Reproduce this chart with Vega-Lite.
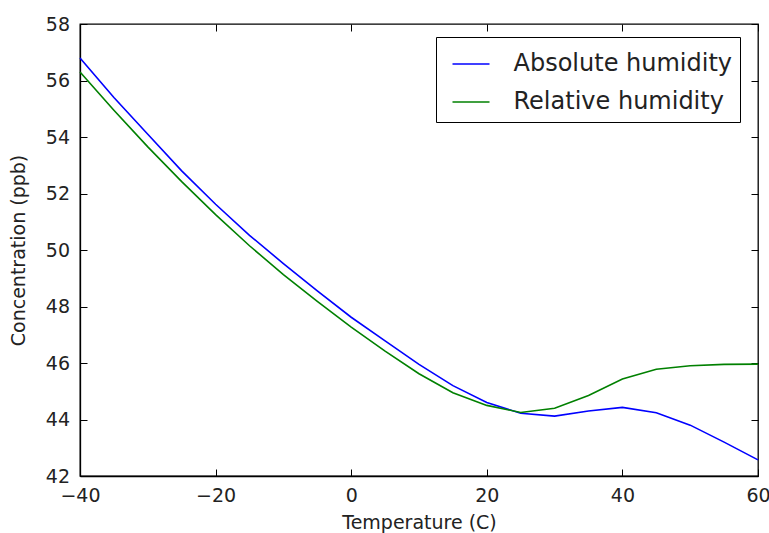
{
  "$schema": "https://vega.github.io/schema/vega-lite/v6.json",
  "width": 678,
  "height": 452,
  "autosize": "none",
  "padding": {"left": 80, "top": 24, "right": 11, "bottom": 57},
  "background": "white",
  "config": {
    "font": "DejaVu Sans",
    "view": {"stroke": "black", "strokeWidth": 1.3},
    "axis": {
      "grid": false,
      "domainColor": "black",
      "domainWidth": 1.3,
      "tickColor": "black",
      "tickWidth": 1,
      "tickSize": -7,
      "labelFlush": false,
      "labelOverlap": false,
      "labelFont": "DejaVu Sans",
      "labelFontSize": 19,
      "labelColor": "#222222",
      "labelPadding": 17.5,
      "titleFont": "DejaVu Sans",
      "titleFontSize": 19,
      "titleFontWeight": "normal",
      "titleColor": "#222222"
    },
    "legend": {
      "labelFont": "DejaVu Sans",
      "labelFontSize": 24,
      "labelColor": "#222222",
      "labelLimit": 0
    }
  },
  "data": {
    "values": [
      {"t": -40, "c": 56.8, "s": "Absolute humidity"},
      {"t": -35, "c": 55.4, "s": "Absolute humidity"},
      {"t": -30, "c": 54.1, "s": "Absolute humidity"},
      {"t": -25, "c": 52.8, "s": "Absolute humidity"},
      {"t": -20, "c": 51.62, "s": "Absolute humidity"},
      {"t": -15, "c": 50.52, "s": "Absolute humidity"},
      {"t": -10, "c": 49.52, "s": "Absolute humidity"},
      {"t": -5, "c": 48.55, "s": "Absolute humidity"},
      {"t": 0, "c": 47.62, "s": "Absolute humidity"},
      {"t": 5, "c": 46.78, "s": "Absolute humidity"},
      {"t": 10, "c": 45.95, "s": "Absolute humidity"},
      {"t": 15, "c": 45.2, "s": "Absolute humidity"},
      {"t": 20, "c": 44.6, "s": "Absolute humidity"},
      {"t": 25, "c": 44.22, "s": "Absolute humidity"},
      {"t": 30, "c": 44.12, "s": "Absolute humidity"},
      {"t": 35, "c": 44.3, "s": "Absolute humidity"},
      {"t": 40, "c": 44.43, "s": "Absolute humidity"},
      {"t": 45, "c": 44.24, "s": "Absolute humidity"},
      {"t": 50, "c": 43.8, "s": "Absolute humidity"},
      {"t": 55, "c": 43.2, "s": "Absolute humidity"},
      {"t": 60, "c": 42.57, "s": "Absolute humidity"},
      {"t": -40, "c": 56.3, "s": "Relative humidity"},
      {"t": -35, "c": 54.95, "s": "Relative humidity"},
      {"t": -30, "c": 53.65, "s": "Relative humidity"},
      {"t": -25, "c": 52.42, "s": "Relative humidity"},
      {"t": -20, "c": 51.25, "s": "Relative humidity"},
      {"t": -15, "c": 50.15, "s": "Relative humidity"},
      {"t": -10, "c": 49.13, "s": "Relative humidity"},
      {"t": -5, "c": 48.18, "s": "Relative humidity"},
      {"t": 0, "c": 47.27, "s": "Relative humidity"},
      {"t": 5, "c": 46.42, "s": "Relative humidity"},
      {"t": 10, "c": 45.62, "s": "Relative humidity"},
      {"t": 15, "c": 44.95, "s": "Relative humidity"},
      {"t": 20, "c": 44.5, "s": "Relative humidity"},
      {"t": 25, "c": 44.25, "s": "Relative humidity"},
      {"t": 30, "c": 44.4, "s": "Relative humidity"},
      {"t": 35, "c": 44.85, "s": "Relative humidity"},
      {"t": 40, "c": 45.43, "s": "Relative humidity"},
      {"t": 45, "c": 45.78, "s": "Relative humidity"},
      {"t": 50, "c": 45.9, "s": "Relative humidity"},
      {"t": 55, "c": 45.95, "s": "Relative humidity"},
      {"t": 60, "c": 45.96, "s": "Relative humidity"}
    ]
  },
  "resolve": {"axis": {"x": "independent", "y": "independent"}},
  "layer": [
    {
      "mark": {"type": "line", "strokeWidth": 1.6, "interpolate": "linear"},
      "encoding": {
        "x": {
          "field": "t", "type": "quantitative",
          "scale": {"domain": [-40, 60], "nice": false, "zero": false},
          "axis": {"orient": "bottom", "values": [-40, -20, 0, 20, 40, 60], "title": "Temperature (C)", "titlePadding": 8, "format": "d"}
        },
        "y": {
          "field": "c", "type": "quantitative",
          "scale": {"domain": [42, 58], "nice": false, "zero": false},
          "axis": {"orient": "left", "values": [42, 44, 46, 48, 50, 52, 54, 56, 58], "title": "Concentration (ppb)", "titlePadding": 17, "format": "d"}
        },
        "color": {
          "field": "s", "type": "nominal",
          "scale": {"domain": ["Absolute humidity", "Relative humidity"], "range": ["#0000ff", "#008000"]},
          "legend": {
            "title": null,
            "orient": "none",
            "legendX": 356,
            "legendY": 13,
            "symbolType": "stroke",
            "symbolSize": 1369,
            "symbolStrokeWidth": 1.6,
            "symbolOffset": 8,
            "labelOffset": 23,
            "rowPadding": 6,
            "padding": 7.5,
            "strokeColor": "black",
            "fillColor": "white",
            "cornerRadius": 0
          }
        }
      }
    },
    {
      "mark": {"type": "line", "opacity": 0},
      "encoding": {
        "x": {
          "field": "t", "type": "quantitative",
          "axis": {"orient": "top", "values": [-40, -20, 0, 20, 40, 60], "labels": false, "title": null, "domain": false}
        },
        "y": {
          "field": "c", "type": "quantitative",
          "axis": {"orient": "right", "values": [42, 44, 46, 48, 50, 52, 54, 56, 58], "labels": false, "title": null, "domain": false}
        },
        "detail": {"field": "s"}
      }
    }
  ]
}
